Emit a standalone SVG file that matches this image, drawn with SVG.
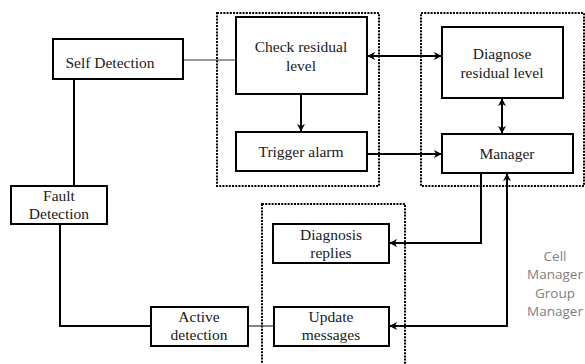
<svg xmlns="http://www.w3.org/2000/svg" width="585" height="364" viewBox="0 0 585 364">
<style>
.box{fill:#fff;stroke:#000;stroke-width:2}
.grp{fill:none;stroke:#000;stroke-width:2;stroke-dasharray:2 1.2}
.t{font-family:"Liberation Serif","Times New Roman",serif;font-size:15.5px;fill:#1a1a1a;text-anchor:middle}
.c{fill:none;stroke:#000;stroke-width:2}
.thin{fill:none;stroke:#333;stroke-width:1.2}
.side{font-family:"Open Sans","Liberation Sans",sans-serif;font-size:13.5px;fill:#808080;text-anchor:middle}
</style>
<defs>
<marker id="ah" viewBox="0 0 10 10" refX="9" refY="5" markerWidth="4" markerHeight="4" orient="auto-start-reverse" markerUnits="strokeWidth">
<path d="M0,0 L10,5 L0,10 L3,5 z" fill="#000"/>
</marker>
</defs>
<rect width="585" height="364" fill="#fff"/>
<g id="groups">
<rect class="grp" x="217" y="13" width="162" height="173"/>
<rect class="grp" x="421" y="13" width="163" height="173"/>
<rect class="grp" x="262" y="204" width="143" height="170"/>
</g>
<g id="connectors">
<line class="thin" x1="183" y1="60" x2="236" y2="60"/>
<line class="c" x1="74" y1="79" x2="74" y2="186"/>
<polyline class="c" points="60,224 60,326 151,326"/>
<line class="thin" x1="248" y1="326" x2="274" y2="326"/>
<line class="c" x1="301" y1="94" x2="301" y2="131" marker-end="url(#ah)"/>
<line class="c" x1="368" y1="56" x2="441" y2="56" marker-start="url(#ah)" marker-end="url(#ah)"/>
<line class="c" x1="502" y1="99" x2="502" y2="133" marker-start="url(#ah)" marker-end="url(#ah)"/>
<line class="c" x1="367" y1="154" x2="441" y2="154" marker-end="url(#ah)"/>
<polyline class="c" points="481,173 481,243 390,243" marker-end="url(#ah)"/>
<polyline class="c" points="390,326 507,326 507,174" marker-start="url(#ah)" marker-end="url(#ah)"/>
</g>
<g id="self-detection">
<rect class="box" x="53" y="39" width="130" height="40"/>
<text class="t" x="110" y="68" style="text-anchor:middle">Self Detection</text>
</g>
<g id="check-residual">
<rect class="box" x="236" y="17" width="131" height="77"/>
<text class="t" x="301" y="52">Check residual</text>
<text class="t" x="301" y="71">level</text>
</g>
<g id="trigger-alarm">
<rect class="box" x="236" y="132" width="131" height="39"/>
<text class="t" x="301" y="157">Trigger alarm</text>
</g>
<g id="diagnose-residual">
<rect class="box" x="442" y="27" width="121" height="71"/>
<text class="t" x="502" y="59">Diagnose</text>
<text class="t" x="502" y="78">residual level</text>
</g>
<g id="manager">
<rect class="box" x="442" y="134" width="131" height="39"/>
<text class="t" x="507" y="159">Manager</text>
</g>
<g id="fault-detection">
<rect class="box" x="11" y="186" width="96" height="38"/>
<text class="t" x="59" y="201">Fault</text>
<text class="t" x="59" y="219">Detection</text>
</g>
<g id="active-detection">
<rect class="box" x="151" y="307" width="97" height="39"/>
<text class="t" x="199" y="322">Active</text>
<text class="t" x="199" y="340">detection</text>
</g>
<g id="diagnosis-replies">
<rect class="box" x="273" y="224" width="116" height="39"/>
<text class="t" x="331" y="240">Diagnosis</text>
<text class="t" x="331" y="258">replies</text>
</g>
<g id="update-messages">
<rect class="box" x="274" y="307" width="115" height="39"/>
<text class="t" x="331" y="322">Update</text>
<text class="t" x="331" y="340">messages</text>
</g>
<g id="side-label">
<text class="side" x="555" y="261">Cell</text>
<text class="side" x="555" y="279">Manager</text>
<text class="side" x="555" y="298">Group</text>
<text class="side" x="555" y="316">Manager</text>
</g>
</svg>
